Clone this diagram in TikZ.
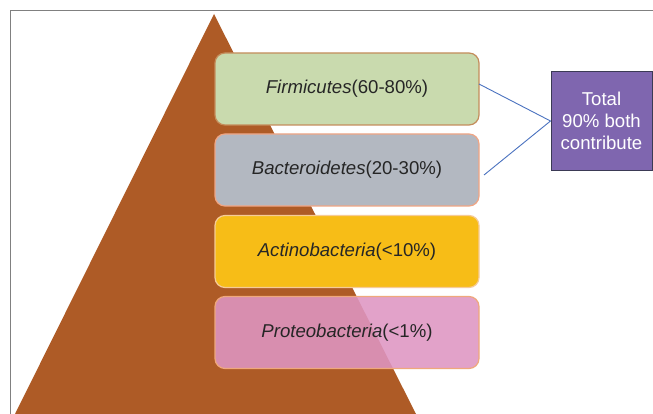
\documentclass[tikz,border=0pt]{standalone}
\usepackage{fontspec}
\setmainfont{Liberation Sans}
\definecolor{tri}{HTML}{AE5B26}
\definecolor{gfill}{HTML}{C9DAAE}
\definecolor{gdraw}{HTML}{C48D5C}
\definecolor{bfill}{HTML}{B3B8C1}
\definecolor{bdraw}{HTML}{EFA584}
\definecolor{yfill}{HTML}{F7BD17}
\definecolor{ydraw}{HTML}{F6CB97}
\definecolor{pfill}{HTML}{DE96C2}
\definecolor{pdraw}{HTML}{EFA87C}
\definecolor{vfill}{HTML}{7F66AF}
\definecolor{vdraw}{HTML}{3B3A55}
\definecolor{txt}{HTML}{262626}
\definecolor{link}{HTML}{4A72C0}
\definecolor{frame}{HTML}{808080}
\tikzset{
  bar/.style={rectangle, rounded corners=10pt, minimum width=264pt, minimum height=72pt,
    line width=1.2pt, text=txt, font=\fontsize{18.6}{21.5}\selectfont, inner sep=0pt},
  totbox/.style={rectangle, minimum width=101pt, minimum height=99pt, fill=vfill, draw=vdraw,
    line width=1pt, text=white, align=center, font=\fontsize{18.6}{22}\selectfont, inner sep=0pt},
  conn/.style={draw=link, line width=0.9pt}
}
\begin{document}
\begin{tikzpicture}[x=1pt,y=-1pt]
\useasboundingbox (0,0) rectangle (653,414);
\fill[white] (0,0) rectangle (653,414);
\draw[frame, line width=1pt] (10,414) -- (10,11) -- (653,11);
\fill[tri] (214,14) -- (416,414) -- (15,414) -- cycle;
\node[bar, fill=gfill, draw=gdraw] (firm) at (347,89) {\textit{Firmicutes}(60-80\%)};
\node[bar, fill=bfill, draw=bdraw] (bact) at (347,170) {\textit{Bacteroidetes}(20-30\%)};
\node[bar, fill=yfill, draw=ydraw] (acti) at (347,251.5) {\textit{Actinobacteria}(<10\%)};
\node[bar, fill=pfill, fill opacity=0.88, text opacity=1, draw=pdraw] (prot) at (347,332.5) {\textit{Proteobacteria}(<1\%)};
\node[totbox] (tot) at (601.5,121) {Total\\90\% both\\contribute};
\coordinate (c1) at (479,84);
\coordinate (c2) at (484,175);
\draw[conn] (c1) -- (tot.west);
\draw[conn] (c2) -- (tot.west);
\end{tikzpicture}
\end{document}
